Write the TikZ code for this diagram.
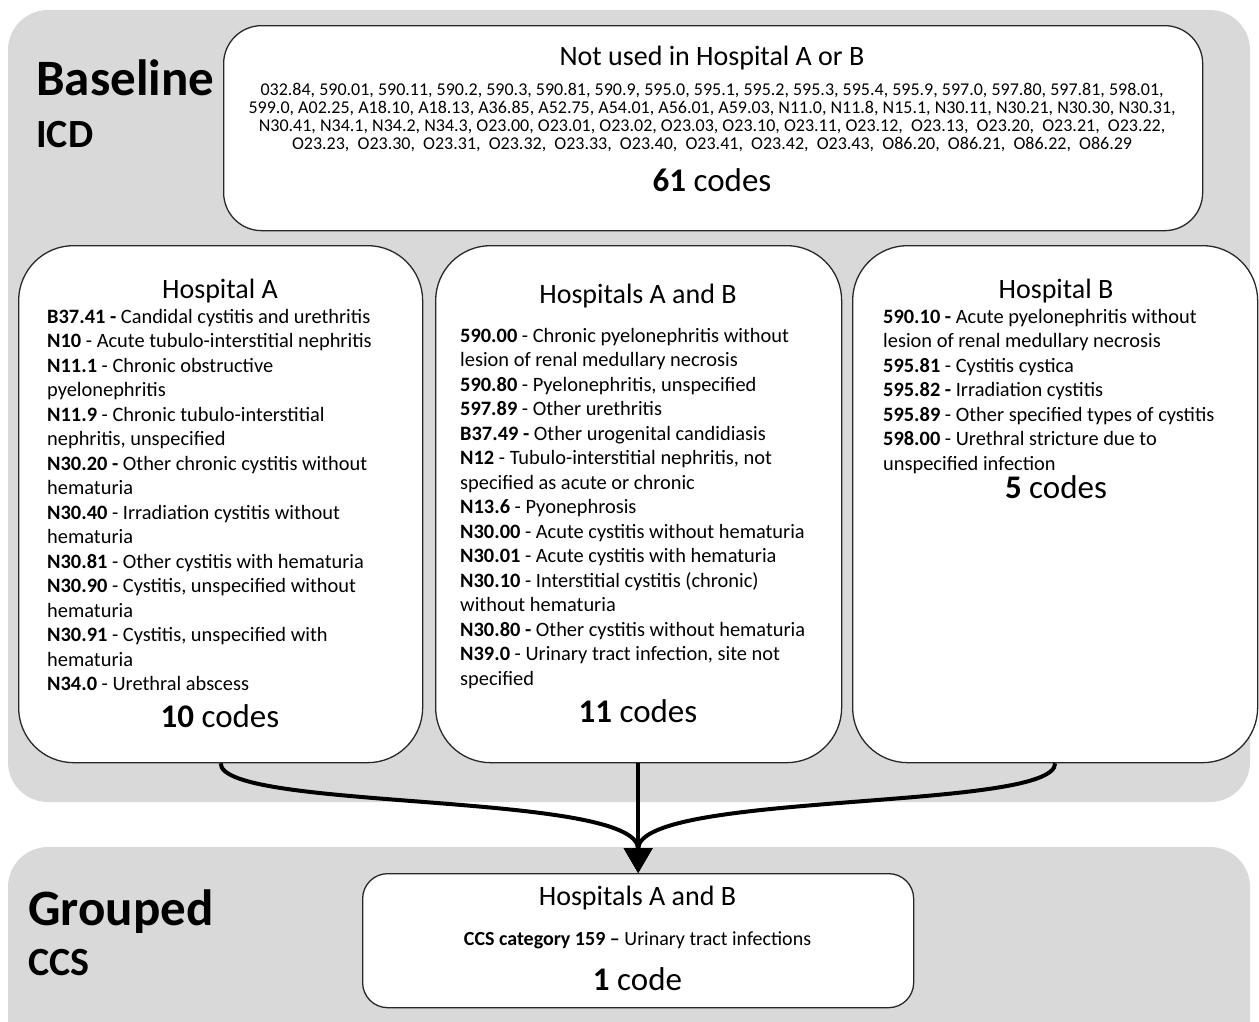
\documentclass[tikz,border=0pt]{standalone}
\usepackage{fontspec}
\setmainfont{Carlito}
\usetikzlibrary{arrows.meta}
\definecolor{panel}{RGB}{217,217,217}
\definecolor{edge}{RGB}{40,40,40}
\begin{document}
\begin{tikzpicture}[x=1pt,y=-1pt,
  panelbox/.style={fill=panel, draw=none, rounded corners=40pt},
  codebox/.style={draw=edge, line width=1.3pt, fill=white, inner sep=0pt, anchor=north west},
  bigbox/.style={codebox, rounded corners=55pt},
  conn/.style={line width=4pt, -{Triangle[length=25pt,width=28pt]}},
  bodytext/.style={font=\fontsize{20.4}{24.5}\selectfont, align=left, anchor=base west, inner sep=0pt},
  toptext/.style={font=\fontsize{18}{18}\selectfont, align=center, anchor=base, inner sep=0pt},
  title/.style={font=\fontsize{28}{32}\selectfont, anchor=base, inner sep=0pt},
  count/.style={font=\fontsize{33}{38}\selectfont, anchor=base, inner sep=0pt},
  stage/.style={font=\bfseries\fontsize{51}{56}\selectfont, anchor=base west, inner sep=0pt},
  substage/.style={font=\bfseries\fontsize{40}{46}\selectfont, anchor=base west, inner sep=0pt}]
\useasboundingbox (0,0) rectangle (1259,1021);
\clip (0,0) rectangle (1259,1021);
% panels
\fill[panelbox] (8,10) rectangle (1250,802);
\fill[panelbox] (8,847) rectangle (1250,1080);
% stage labels
\node[stage] (lbase) at (36,95) {Baseline};
\node[substage] (licd) at (36,147) {ICD};
\node[stage] (lgroup) at (28,925) {Grouped};
\node[substage] (lccs) at (28,975) {CCS};
% top box
\node[codebox, rounded corners=38pt, minimum width=979pt, minimum height=205pt] (top) at (223,25) {};
\node[title] (ttop) at (712,65) {Not used in Hospital A or B};
% base anchor of a multi-line node = baseline of its last line
\node[toptext] (codes) at (712,149) {032.84, 590.01, 590.11, 590.2, 590.3, 590.81, 590.9, 595.0, 595.1, 595.2, 595.3, 595.4, 595.9, 597.0, 597.80, 597.81, 598.01,\\
599.0, A02.25, A18.10, A18.13, A36.85, A52.75, A54.01, A56.01, A59.03, N11.0, N11.8, N15.1, N30.11, N30.21, N30.30, N30.31,\\
N30.41, N34.1, N34.2, N34.3, O23.00, O23.01, O23.02, O23.03, O23.10, O23.11, O23.12,~ O23.13,~ O23.20,~ O23.21,~ O23.22,\\
O23.23,~ O23.30,~ O23.31,~ O23.32,~ O23.33,~ O23.40,~ O23.41,~ O23.42,~ O23.43,~ O86.20,~ O86.21,~ O86.22,~ O86.29};
\node[count] (ctop) at (712,191) {\textbf{61} codes};
% hospital A
\node[bigbox, minimum width=404pt, minimum height=517pt] (hA) at (18,245) {};
\node[title] (tA) at (220,298) {Hospital A};
\node[bodytext] (bA) at (47,690.5) {\textbf{B37.41 -} Candidal cystitis and urethritis\\
\textbf{N10} - Acute tubulo-interstitial nephritis\\
\textbf{N11.1} - Chronic obstructive\\
pyelonephritis\\
\textbf{N11.9} - Chronic tubulo-interstitial\\
nephritis, unspecified\\
\textbf{N30.20 -} Other chronic cystitis without\\
hematuria\\
\textbf{N30.40} - Irradiation cystitis without\\
hematuria\\
\textbf{N30.81} - Other cystitis with hematuria\\
\textbf{N30.90} - Cystitis, unspecified without\\
hematuria\\
\textbf{N30.91} - Cystitis, unspecified with\\
hematuria\\
\textbf{N34.0} - Urethral abscess};
\node[count] (cA) at (220,727) {\textbf{10} codes};
% hospitals A and B
\node[bigbox, minimum width=406pt, minimum height=517pt] (hAB) at (435,245) {};
\node[title] (tAB) at (638,303) {Hospitals A and B};
\node[bodytext] (bAB) at (460,685) {\textbf{590.00} - Chronic pyelonephritis without\\
lesion of renal medullary necrosis\\
\textbf{590.80} - Pyelonephritis, unspecified\\
\textbf{597.89} - Other urethritis\\
\textbf{B37.49 -} Other urogenital candidiasis\\
\textbf{N12} - Tubulo-interstitial nephritis, not\\
specified as acute or chronic\\
\textbf{N13.6} - Pyonephrosis\\
\textbf{N30.00} - Acute cystitis without hematuria\\
\textbf{N30.01} - Acute cystitis with hematuria\\
\textbf{N30.10} - Interstitial cystitis (chronic)\\
without hematuria\\
\textbf{N30.80 -} Other cystitis without hematuria\\
\textbf{N39.0} - Urinary tract infection, site not\\
specified};
\node[count] (cAB) at (638,722) {\textbf{11} codes};
% hospital B
\node[bigbox, minimum width=405pt, minimum height=517pt] (hB) at (852,245) {};
\node[title] (tB) at (1056,298) {Hospital B};
\node[bodytext] (bB) at (883,470) {\textbf{590.10 -} Acute pyelonephritis without\\
lesion of renal medullary necrosis\\
\textbf{595.81} - Cystitis cystica\\
\textbf{595.82 -} Irradiation cystitis\\
\textbf{595.89} - Other specified types of cystitis\\
\textbf{598.00} - Urethral stricture due to\\
unspecified infection};
\node[count] (cB) at (1056,498) {\textbf{5} codes};
% bottom box
\node[codebox, rounded corners=25pt, minimum width=551pt, minimum height=134pt] (grp) at (362,873) {};
\node[title] (tgrp) at (637.5,905) {Hospitals A and B};
\node[font=\fontsize{20}{24}\selectfont, anchor=base, inner sep=0pt] (ccs) at (637.5,945) {\textbf{CCS category 159 –} Urinary tract infections};
\node[count] (cgrp) at (637.5,990) {\textbf{1} code};
% connectors
\draw[conn] (hA.south) .. controls ([yshift=-48pt]hA.south) and ([yshift=82pt]grp.north) .. (grp.north);
\draw[conn] (hB.south) .. controls ([yshift=-48pt]hB.south) and ([yshift=82pt]grp.north) .. (grp.north);
\draw[conn] (hAB.south -| grp.north) -- (grp.north);
\end{tikzpicture}
\end{document}
